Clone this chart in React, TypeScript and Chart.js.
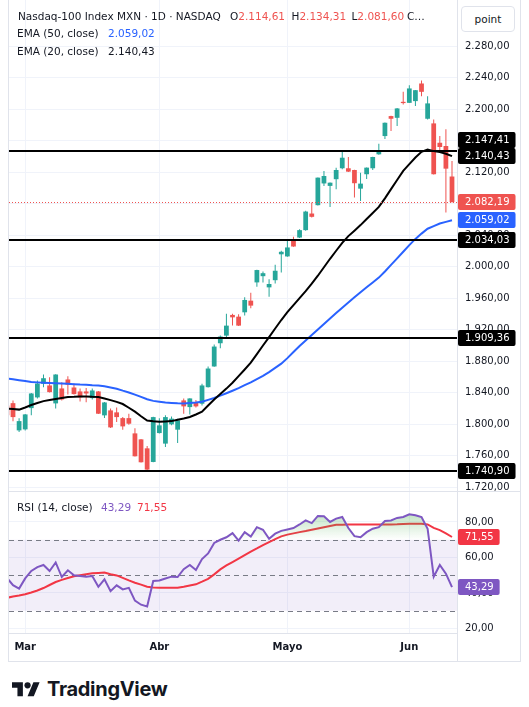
import React, { useEffect, useRef } from "react";
import { Chart, registerables } from "chart.js";

Chart.register(...registerables);

// ---------- DATA ----------
const opens = [1823.8, 1826.7, 1792.1, 1793.4, 1820.4, 1834.0, 1851.3, 1849.2, 1826.4, 1845.4, 1856.8, 1846.6, 1841.6, 1841.6, 1833.1, 1841.6, 1811.2, 1817.5, 1815.0, 1807.7, 1807.7, 1788.3, 1780.7, 1769.3, 1752.0, 1788.7, 1775.3, 1799.8, 1793.0, 1830.2, 1821.7, 1828.0, 1826.0, 1847.0, 1873.3, 1902.8, 1912.5, 1938.8, 1936.6, 1942.1, 1956.9, 1980.1, 1988.0, 1973.8, 1982.9, 2015.8, 2013.1, 2033.6, 2037.1, 2046.5, 2067.6, 2078.2, 2105.8, 2102.7, 2111.2, 2125.1, 2125.1, 2122.9, 2099.2, 2117.5, 2125.1, 2142.8, 2166.0, 2191.4, 2189.2, 2209.5, 2208.2, 2210.4, 2232.8, 2188.0, 2182.1, 2157.5, 2153.4, 2114.61];
const highs = [1826.0, 1830.2, 1807.4, 1813.0, 1839.5, 1855.5, 1863.1, 1859.7, 1863.5, 1853.4, 1861.0, 1851.7, 1845.4, 1845.8, 1845.4, 1842.2, 1828.2, 1820.0, 1821.3, 1809.0, 1813.3, 1794.7, 1781.2, 1772.2, 1809.5, 1807.4, 1811.2, 1809.9, 1807.0, 1832.7, 1833.0, 1830.8, 1851.3, 1873.3, 1901.1, 1912.5, 1940.4, 1940.4, 1939.8, 1961.1, 1967.0, 1996.2, 1994.0, 1984.2, 2002.5, 2020.3, 2035.1, 2038.0, 2047.5, 2071.0, 2081.5, 2113.5, 2121.7, 2107.1, 2125.9, 2145.8, 2139.4, 2123.2, 2119.5, 2126.2, 2139.6, 2156.3, 2183.2, 2191.7, 2201.5, 2222.2, 2230.7, 2224.6, 2236.6, 2216.7, 2187.2, 2166.0, 2174.5, 2134.31];
const lows = [1808.0, 1803.6, 1790.0, 1792.1, 1811.2, 1832.7, 1847.0, 1840.2, 1820.0, 1830.2, 1837.8, 1837.8, 1828.9, 1828.0, 1831.4, 1812.8, 1807.7, 1795.0, 1802.7, 1793.0, 1799.4, 1758.8, 1751.2, 1740.6, 1751.5, 1788.3, 1771.0, 1798.5, 1776.0, 1813.3, 1812.4, 1821.3, 1823.8, 1846.6, 1872.8, 1896.5, 1910.4, 1925.2, 1924.8, 1937.9, 1947.4, 1974.7, 1980.1, 1962.0, 1978.8, 1992.8, 2012.8, 2025.4, 2036.4, 2045.6, 2062.5, 2077.9, 2102.7, 2076.0, 2098.5, 2123.8, 2120.4, 2087.8, 2083.6, 2111.5, 2122.9, 2142.4, 2162.2, 2172.4, 2178.7, 2206.2, 2207.9, 2204.1, 2216.7, 2187.2, 2117.2, 2144.9, 2068.8, 2081.60];
const closes = [1811.2, 1809.0, 1803.9, 1812.4, 1839.0, 1851.7, 1858.4, 1840.7, 1863.1, 1831.4, 1850.1, 1838.2, 1834.0, 1839.0, 1842.8, 1813.3, 1827.6, 1795.9, 1809.0, 1797.2, 1800.6, 1759.2, 1751.6, 1742.3, 1809.0, 1798.5, 1809.0, 1807.0, 1804.8, 1822.6, 1832.7, 1822.6, 1849.2, 1870.7, 1898.6, 1911.3, 1925.2, 1935.7, 1925.2, 1957.8, 1950.6, 1995.8, 1991.8, 1978.1, 1994.9, 2019.0, 2024.5, 2025.7, 2046.5, 2070.1, 2063.4, 2113.2, 2115.3, 2106.8, 2122.9, 2138.5, 2120.8, 2106.1, 2105.6, 2125.9, 2139.4, 2147.0, 2182.9, 2188.0, 2201.1, 2207.9, 2226.5, 2224.3, 2222.2, 2207.5, 2117.5, 2152.1, 2124.6, 2082.19];

const ema50 = [1858.2, 1857.0, 1855.9, 1854.8, 1853.6, 1853.1, 1852.7, 1852.3, 1852.0, 1851.6, 1851.2, 1850.8, 1850.3, 1850.0, 1849.4, 1849.2, 1848.1, 1846.6, 1845.1, 1842.6, 1840.3, 1837.6, 1834.6, 1831.6, 1829.6, 1828.5, 1827.5, 1827.0, 1826.6, 1826.4, 1826.9, 1827.4, 1828.4, 1830.9, 1833.3, 1836.2, 1839.3, 1842.5, 1845.9, 1849.6, 1853.2, 1857.3, 1861.5, 1866.2, 1871.5, 1876.9, 1883.9, 1891.6, 1899.4, 1906.3, 1913.3, 1920.3, 1927.3, 1934.2, 1941.2, 1948.0, 1954.5, 1961.1, 1967.7, 1973.9, 1980.0, 1986.2, 1994.0, 2002.3, 2010.6, 2019.1, 2027.5, 2035.4, 2042.1, 2048.3, 2051.6, 2054.9, 2057.0, 2059.02];
const ema20 = [1819.9, 1819.3, 1818.5, 1821.2, 1824.3, 1826.9, 1829.3, 1830.7, 1832.1, 1833.3, 1834.5, 1834.7, 1835.1, 1835.1, 1834.7, 1834.5, 1832.7, 1830.6, 1828.3, 1825.6, 1820.9, 1815.9, 1810.1, 1804.7, 1803.7, 1803.0, 1803.4, 1803.9, 1805.5, 1807.1, 1809.1, 1812.3, 1815.9, 1823.7, 1831.4, 1838.4, 1845.2, 1852.7, 1861.1, 1869.5, 1878.1, 1888.9, 1899.9, 1910.6, 1921.5, 1932.3, 1942.3, 1951.2, 1960.1, 1968.9, 1978.5, 1988.6, 1999.4, 2010.1, 2020.3, 2030.4, 2038.9, 2045.8, 2052.9, 2060.6, 2068.3, 2076.0, 2086.9, 2098.6, 2110.2, 2121.8, 2130.3, 2138.8, 2146.0, 2148.8, 2146.9, 2145.6, 2143.5, 2140.43];

const rsi = [48.5, 44.4, 42.5, 48.2, 52.4, 54.6, 55.8, 52.4, 57.2, 49.0, 52.8, 50.0, 49.6, 49.2, 49.6, 43.5, 47.7, 41.0, 44.3, 42.0, 42.9, 35.7, 33.4, 32.4, 46.8, 47.1, 48.2, 49.2, 49.0, 53.4, 55.8, 53.0, 59.1, 62.3, 68.2, 70.0, 71.4, 73.7, 69.5, 74.3, 71.8, 77.1, 75.6, 70.5, 73.4, 75.0, 75.8, 76.6, 78.6, 80.9, 79.4, 83.4, 83.2, 80.0, 81.9, 82.8, 76.6, 72.0, 71.4, 74.3, 76.2, 77.1, 80.6, 80.9, 82.3, 82.8, 84.3, 83.8, 82.8, 76.2, 49.2, 55.8, 50.9, 43.29];
const rsiMa = [37.3, 38.0, 38.6, 39.3, 40.3, 41.4, 42.8, 44.5, 46.2, 47.4, 48.4, 49.4, 50.0, 50.6, 51.1, 51.3, 51.5, 50.6, 49.9, 48.5, 47.1, 45.8, 44.7, 43.5, 43.1, 43.0, 42.9, 42.9, 42.9, 43.5, 44.2, 44.9, 46.4, 48.0, 50.5, 53.3, 55.5, 57.4, 59.3, 61.3, 63.3, 65.1, 67.0, 68.7, 70.3, 71.9, 72.9, 73.6, 74.3, 74.9, 75.6, 76.3, 77.0, 77.7, 78.4, 78.5, 78.6, 78.6, 78.6, 78.6, 78.6, 78.6, 78.6, 78.6, 78.7, 78.9, 79.0, 79.0, 79.0, 78.6, 76.7, 75.4, 73.6, 71.55];

const monthLabels = ["Mar", "Abr", "Mayo", "Jun"];
const monthStartIndex = [3, 25, 46, 66];
const priceTicks = [1720, 1760, 1800, 1840, 1880, 1920, 1960, 2000, 2040, 2080, 2120, 2160, 2200, 2240, 2280];
const rsiTicks = [20, 40, 60, 80];
const levels = [2147.41, 2034.03, 1909.36, 1740.9];
const rsiBands = [70, 50, 30];

// ---------- STYLE / LAYOUT ----------
const FONT = "'DejaVu Sans', Verdana, sans-serif";
const TEXT = "#131722";
const GRID = "#f0f3fa";
const BORDER = "#e0e3eb";
const UP = "#26a69a";
const DOWN = "#ef5350";
const EMA20_COLOR = "#000000";
const EMA50_COLOR = "#2962ff";
const RSI_COLOR = "#7e57c2";
const RSI_MA_COLOR = "#f23645";
const LEVEL_COLOR = "#000000";
const X_MIN = 0.344;
const X_MAX = 73.82;
const P_MIN = 1715.11;
const P_MAX = 2338.85;
const R_MIN = 17.46;
const R_MAX = 96.9;

Chart.defaults.font.family = FONT;

function fmt(v: number) {
  const [i, d] = v.toFixed(2).split(".");
  return i.replace(/\B(?=(\d{3})+(?!\d))/g, ".") + "," + d;
}

type Tag = { value: number; bg: string; fg: string };

function drawTags(chart: any, tags: Tag[]) {
  const { ctx, chartArea } = chart;
  const ys = chart.scales.y;
  const H = 16;
  const items = tags
    .map((t) => ({ ...t, py: ys.getPixelForValue(t.value) }))
    .sort((a, b) => b.py - a.py);
  for (let i = 1; i < items.length; i++) {
    if (items[i].py > items[i - 1].py - H) items[i].py = items[i - 1].py - H;
  }
  ctx.save();
  ctx.font = `10px ${FONT}`;
  ctx.textBaseline = "middle";
  ctx.textAlign = "left";
  for (const it of items) {
    const text = fmt(it.value);
    const w = ctx.measureText(text).width;
    const x0 = chartArea.right + 1;
    ctx.fillStyle = it.bg;
    ctx.beginPath();
    (ctx as any).roundRect(x0, Math.round(it.py - H / 2), w + 13, H, 2);
    ctx.fill();
    ctx.fillStyle = it.fg;
    ctx.fillText(text, x0 + 7, Math.round(it.py) + 0.5);
  }
  ctx.restore();
}

function xScale(showLabels: boolean) {
  return {
    type: "linear",
    min: X_MIN,
    max: X_MAX,
    offset: false,
    afterBuildTicks: (s: any) => {
      s.ticks = monthStartIndex.map((v) => ({ value: v }));
    },
    ticks: {
      display: showLabels,
      autoSkip: false,
      maxRotation: 0,
      padding: 8,
      color: TEXT,
      font: { size: 10, weight: "bold" },
      callback: (_v: any, i: number) => monthLabels[i],
    },
    grid: { color: GRID, drawTicks: false, offset: false },
    border: { display: showLabels, color: BORDER },
    afterFit: (s: any) => {
      s.height = showLabels ? 29 : 0;
      s.paddingLeft = 0;
      s.paddingRight = 0;
    },
  };
}

function yScale(min: number, max: number, ticks: number[]) {
  return {
    type: "linear",
    position: "right",
    min,
    max,
    beginAtZero: false,
    afterBuildTicks: (s: any) => {
      s.ticks = ticks.map((v) => ({ value: v }));
    },
    ticks: {
      color: TEXT,
      padding: 8,
      font: { size: 10 },
      autoSkip: false,
      callback: (v: any) => fmt(Number(v)),
    },
    grid: { color: GRID, drawTicks: false },
    border: { display: false },
    afterFit: (s: any) => {
      s.width = 72;
      s.paddingTop = 0;
      s.paddingBottom = 0;
    },
  };
}

const pts = (arr: number[]) => arr.map((v, i) => ({ x: i, y: v }));

function mainConfig(): any {
  const colors = closes.map((c, i) => (c >= opens[i] ? UP : DOWN));
  const last = closes.length - 1;
  const overlay = {
    id: "mainOverlay",
    afterDatasetsDraw(chart: any) {
      const { ctx, chartArea } = chart;
      const ys = chart.scales.y;
      ctx.save();
      const py = Math.round(ys.getPixelForValue(closes[last])) + 0.5;
      ctx.strokeStyle = colors[last];
      ctx.lineWidth = 1;
      ctx.setLineDash([1, 2]);
      ctx.beginPath();
      ctx.moveTo(chartArea.left, py);
      ctx.lineTo(chartArea.right, py);
      ctx.stroke();
      ctx.setLineDash([]);
      ctx.strokeStyle = LEVEL_COLOR;
      ctx.lineWidth = 2;
      for (const v of levels) {
        const p = Math.round(ys.getPixelForValue(v));
        ctx.beginPath();
        ctx.moveTo(chartArea.left, p);
        ctx.lineTo(chartArea.right + 2, p);
        ctx.stroke();
      }
      ctx.restore();
    },
    afterDraw(chart: any) {
      const tags: Tag[] = levels.map((v) => ({ value: v, bg: LEVEL_COLOR, fg: "#ffffff" }));
      tags.push({ value: ema20[last], bg: EMA20_COLOR, fg: "#ffffff" });
      tags.push({ value: ema50[last], bg: EMA50_COLOR, fg: "#ffffff" });
      tags.push({ value: closes[last], bg: colors[last], fg: "#ffffff" });
      drawTags(chart, tags);
    },
  };
  return {
    type: "bar",
    data: {
      datasets: [
        { type: "line", label: "EMA (20, close)", data: pts(ema20), borderColor: EMA20_COLOR, borderWidth: 2, pointRadius: 0, tension: 0, order: 0 },
        { type: "line", label: "EMA (50, close)", data: pts(ema50), borderColor: EMA50_COLOR, borderWidth: 2, pointRadius: 0, tension: 0, order: 0 },
        { type: "bar", label: "wick", data: lows.map((l, i) => ({ x: i, y: [l, highs[i]] })), backgroundColor: colors, grouped: false, maxBarThickness: 1, order: 2 },
        { type: "bar", label: "body", data: opens.map((o, i) => ({ x: i, y: [o, closes[i]] })), backgroundColor: colors, grouped: false, barPercentage: 0.78, categoryPercentage: 1, minBarLength: 1, order: 1 },
      ],
    },
    options: {
      animation: false,
      responsive: false,
      maintainAspectRatio: false,
      devicePixelRatio: 1,
      events: [],
      layout: { autoPadding: false, padding: { left: 9, right: 0, top: 0, bottom: 0 } },
      plugins: { legend: { display: false }, tooltip: { enabled: false } },
      scales: { x: xScale(false), y: yScale(P_MIN, P_MAX, priceTicks) },
    },
    plugins: [overlay],
  };
}

function rsiConfig(): any {
  const last = rsi.length - 1;
  const overlay = {
    id: "rsiOverlay",
    beforeDatasetsDraw(chart: any) {
      const { ctx, chartArea } = chart;
      const ys = chart.scales.y;
      const top = ys.getPixelForValue(Math.max(...rsiBands));
      const bot = ys.getPixelForValue(Math.min(...rsiBands));
      ctx.save();
      ctx.fillStyle = "rgba(126,87,194,0.1)";
      ctx.fillRect(chartArea.left, top, chartArea.right - chartArea.left, bot - top);
      ctx.strokeStyle = "#787b86";
      ctx.lineWidth = 1;
      ctx.setLineDash([5, 4]);
      for (const v of rsiBands) {
        const p = Math.round(ys.getPixelForValue(v)) + 0.5;
        ctx.beginPath();
        ctx.moveTo(chartArea.left, p);
        ctx.lineTo(chartArea.right, p);
        ctx.stroke();
      }
      ctx.restore();
    },
    afterDraw(chart: any) {
      drawTags(chart, [
        { value: rsi[last], bg: RSI_COLOR, fg: "#ffffff" },
        { value: rsiMa[last], bg: RSI_MA_COLOR, fg: "#ffffff" },
      ]);
    },
  };
  return {
    type: "line",
    data: {
      datasets: [
        {
          label: "RSI",
          data: pts(rsi),
          borderColor: RSI_COLOR,
          borderWidth: 2,
          pointRadius: 0,
          tension: 0,
          order: 0,
          backgroundColor: (c: any) => {
            const chart = c.chart;
            if (!chart.chartArea) return "rgba(0,0,0,0)";
            const ys = chart.scales.y;
            const g = chart.ctx.createLinearGradient(0, ys.getPixelForValue(100), 0, ys.getPixelForValue(70));
            g.addColorStop(0, "rgba(76,175,80,0.7)");
            g.addColorStop(1, "rgba(76,175,80,0)");
            return g;
          },
          fill: { target: { value: 70 }, below: "rgba(0,0,0,0)" },
        },
        { label: "RSI MA", data: pts(rsiMa), borderColor: RSI_MA_COLOR, borderWidth: 2, pointRadius: 0, tension: 0, order: 1, fill: false },
      ],
    },
    options: {
      animation: false,
      responsive: false,
      maintainAspectRatio: false,
      devicePixelRatio: 1,
      events: [],
      layout: { autoPadding: false, padding: { left: 9, right: 0, top: 1, bottom: 0 } },
      plugins: { legend: { display: false }, tooltip: { enabled: false } },
      scales: { x: xScale(true), y: yScale(R_MIN, R_MAX, rsiTicks) },
    },
    plugins: [overlay],
  };
}

const abs = (left: number, top: number, extra: any = {}) => ({ position: "absolute" as const, left, top, whiteSpace: "nowrap" as const, ...extra });

export default function App() {
  const mainRef = useRef<HTMLCanvasElement>(null);
  const rsiRef = useRef<HTMLCanvasElement>(null);
  const last = closes.length - 1;
  const lastColor = closes[last] >= opens[last] ? UP : DOWN;

  useEffect(() => {
    const c1 = new Chart(mainRef.current as HTMLCanvasElement, mainConfig());
    const c2 = new Chart(rsiRef.current as HTMLCanvasElement, rsiConfig());
    return () => {
      c1.destroy();
      c2.destroy();
    };
  }, []);

  const legend = { fontSize: 10.5, lineHeight: "13px", color: TEXT, fontFamily: FONT };

  return (
    <div style={{ position: "absolute", left: 0, top: 0, width: 529, height: 707, background: "#ffffff", overflow: "hidden", fontFamily: FONT }}>
      <canvas ref={mainRef} width={529} height={491} style={{ position: "absolute", left: 0, top: 0, width: 529, height: 491 }} />
      <canvas ref={rsiRef} width={529} height={171} style={{ position: "absolute", left: 0, top: 491, width: 529, height: 171 }} />

      {/* frame lines */}
      <div style={abs(8, 491, { width: 512, height: 1, background: BORDER })} />
      <div style={abs(8, 661, { width: 512, height: 1, background: BORDER })} />
      <div style={abs(457, 0, { width: 1, height: 662, background: BORDER })} />
      <div style={abs(8, 0, { width: 1, height: 662, background: BORDER })} />
      <div style={abs(520, 0, { width: 1, height: 662, background: BORDER })} />

      {/* price unit box */}
      <div style={abs(461, 6, { width: 54, height: 26, boxSizing: "border-box", border: `1px solid ${BORDER}`, borderRadius: 4, background: "#fff", fontSize: 10.5, lineHeight: "24px", textAlign: "center", color: TEXT })}>point</div>

      {/* main legend */}
      <div style={abs(18, 9.7, legend)}>Nasdaq-100 Index MXN · 1D · NASDAQ</div>
      <div style={abs(230, 9.7, legend)}>O<span style={{ color: lastColor }}>{fmt(opens[last])}</span></div>
      <div style={abs(291.5, 9.7, legend)}>H<span style={{ color: lastColor }}>{fmt(highs[last])}</span></div>
      <div style={abs(351.5, 9.7, legend)}>L<span style={{ color: lastColor }}>{fmt(lows[last])}</span></div>
      <div style={abs(407, 9.7, legend)}>C…</div>
      <div style={abs(17, 27.4, legend)}>EMA (50, close)</div>
      <div style={abs(108, 27.4, { ...legend, color: EMA50_COLOR })}>{fmt(ema50[last])}</div>
      <div style={abs(17, 45, legend)}>EMA (20, close)</div>
      <div style={abs(108, 45, legend)}>{fmt(ema20[last])}</div>

      {/* RSI legend */}
      <div style={abs(17, 500.6, legend)}>RSI (14, close)</div>
      <div style={abs(101, 500.6, { ...legend, color: RSI_COLOR })}>{fmt(rsi[last])}</div>
      <div style={abs(137, 500.6, { ...legend, color: RSI_MA_COLOR })}>{fmt(rsiMa[last])}</div>

      {/* TradingView logo */}
      <svg style={abs(12, 679)} width={28} height={22} viewBox="0 0 36 28">
        <path d="M14 22H7V11H0V4h14v18zM28 22h-8l7.5-18h8L28 22z" fill="#131722" />
        <circle cx="20" cy="8" r="4" fill="#131722" />
      </svg>
      <div style={abs(47, 679.4, { fontFamily: "Inter, 'DejaVu Sans', sans-serif", fontWeight: 700, fontSize: 20, lineHeight: "20px", color: "#131722", letterSpacing: -0.3 })}>TradingView</div>
    </div>
  );
}
